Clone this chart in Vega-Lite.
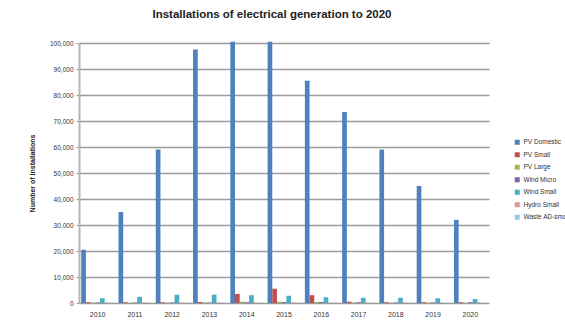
{
  "$schema": "https://vega.github.io/schema/vega-lite/v6.json",
  "autosize": {"type": "none"},
  "padding": {"left": 79, "top": 43, "right": 76, "bottom": 29},
  "width": 410,
  "height": 260,
  "background": "white",
  "title": {
    "text": "Installations of electrical generation to 2020",
    "font": "Liberation Sans Narrow, Liberation Sans",
    "fontSize": 11.5,
    "fontWeight": "bold",
    "color": "#222222",
    "anchor": "middle",
    "dx": -12,
    "offset": 20
  },
  "data": {
    "values": [
      {"year": "2010", "series": "PV Domestic", "installs": 20500},
      {"year": "2011", "series": "PV Domestic", "installs": 35000},
      {"year": "2012", "series": "PV Domestic", "installs": 59000},
      {"year": "2013", "series": "PV Domestic", "installs": 97500},
      {"year": "2014", "series": "PV Domestic", "installs": 100500},
      {"year": "2015", "series": "PV Domestic", "installs": 100500},
      {"year": "2016", "series": "PV Domestic", "installs": 85500},
      {"year": "2017", "series": "PV Domestic", "installs": 73500},
      {"year": "2018", "series": "PV Domestic", "installs": 59000},
      {"year": "2019", "series": "PV Domestic", "installs": 45000},
      {"year": "2020", "series": "PV Domestic", "installs": 32000},

      {"year": "2010", "series": "PV Small", "installs": 300},
      {"year": "2011", "series": "PV Small", "installs": 300},
      {"year": "2012", "series": "PV Small", "installs": 300},
      {"year": "2013", "series": "PV Small", "installs": 400},
      {"year": "2014", "series": "PV Small", "installs": 3500},
      {"year": "2015", "series": "PV Small", "installs": 5500},
      {"year": "2016", "series": "PV Small", "installs": 3000},
      {"year": "2017", "series": "PV Small", "installs": 500},
      {"year": "2018", "series": "PV Small", "installs": 300},
      {"year": "2019", "series": "PV Small", "installs": 300},
      {"year": "2020", "series": "PV Small", "installs": 300},

      {"year": "2010", "series": "PV Large", "installs": 100},
      {"year": "2011", "series": "PV Large", "installs": 100},
      {"year": "2012", "series": "PV Large", "installs": 100},
      {"year": "2013", "series": "PV Large", "installs": 200},
      {"year": "2014", "series": "PV Large", "installs": 500},
      {"year": "2015", "series": "PV Large", "installs": 500},
      {"year": "2016", "series": "PV Large", "installs": 400},
      {"year": "2017", "series": "PV Large", "installs": 200},
      {"year": "2018", "series": "PV Large", "installs": 100},
      {"year": "2019", "series": "PV Large", "installs": 100},
      {"year": "2020", "series": "PV Large", "installs": 100},

      {"year": "2010", "series": "Wind Micro", "installs": 200},
      {"year": "2011", "series": "Wind Micro", "installs": 200},
      {"year": "2012", "series": "Wind Micro", "installs": 200},
      {"year": "2013", "series": "Wind Micro", "installs": 200},
      {"year": "2014", "series": "Wind Micro", "installs": 300},
      {"year": "2015", "series": "Wind Micro", "installs": 400},
      {"year": "2016", "series": "Wind Micro", "installs": 400},
      {"year": "2017", "series": "Wind Micro", "installs": 300},
      {"year": "2018", "series": "Wind Micro", "installs": 200},
      {"year": "2019", "series": "Wind Micro", "installs": 200},
      {"year": "2020", "series": "Wind Micro", "installs": 300},

      {"year": "2010", "series": "Wind Small", "installs": 1800},
      {"year": "2011", "series": "Wind Small", "installs": 2400},
      {"year": "2012", "series": "Wind Small", "installs": 3200},
      {"year": "2013", "series": "Wind Small", "installs": 3200},
      {"year": "2014", "series": "Wind Small", "installs": 3000},
      {"year": "2015", "series": "Wind Small", "installs": 2800},
      {"year": "2016", "series": "Wind Small", "installs": 2200},
      {"year": "2017", "series": "Wind Small", "installs": 2000},
      {"year": "2018", "series": "Wind Small", "installs": 2000},
      {"year": "2019", "series": "Wind Small", "installs": 1800},
      {"year": "2020", "series": "Wind Small", "installs": 1500},

      {"year": "2010", "series": "Hydro Small", "installs": 150},
      {"year": "2011", "series": "Hydro Small", "installs": 150},
      {"year": "2012", "series": "Hydro Small", "installs": 150},
      {"year": "2013", "series": "Hydro Small", "installs": 150},
      {"year": "2014", "series": "Hydro Small", "installs": 150},
      {"year": "2015", "series": "Hydro Small", "installs": 150},
      {"year": "2016", "series": "Hydro Small", "installs": 150},
      {"year": "2017", "series": "Hydro Small", "installs": 150},
      {"year": "2018", "series": "Hydro Small", "installs": 150},
      {"year": "2019", "series": "Hydro Small", "installs": 150},
      {"year": "2020", "series": "Hydro Small", "installs": 150},

      {"year": "2010", "series": "Waste AD-small", "installs": 100},
      {"year": "2011", "series": "Waste AD-small", "installs": 100},
      {"year": "2012", "series": "Waste AD-small", "installs": 100},
      {"year": "2013", "series": "Waste AD-small", "installs": 100},
      {"year": "2014", "series": "Waste AD-small", "installs": 100},
      {"year": "2015", "series": "Waste AD-small", "installs": 100},
      {"year": "2016", "series": "Waste AD-small", "installs": 100},
      {"year": "2017", "series": "Waste AD-small", "installs": 100},
      {"year": "2018", "series": "Waste AD-small", "installs": 100},
      {"year": "2019", "series": "Waste AD-small", "installs": 100},
      {"year": "2020", "series": "Waste AD-small", "installs": 100}
    ]
  },
  "mark": {"type": "bar", "cornerRadius": 0},
  "encoding": {
    "x": {
      "field": "year",
      "type": "nominal",
      "scale": {"paddingInner": 0.12, "paddingOuter": 0.06},
      "axis": {
        "title": null,
        "labelAngle": 0,
        "labelFont": "Liberation Sans Narrow, Liberation Sans",
        "labelFontSize": 7,
        "labelColor": "#333333",
        "labelPadding": 7,
        "ticks": false,
        "domain": false
      }
    },
    "xOffset": {
      "field": "series",
      "type": "nominal",
      "sort": ["PV Domestic", "PV Small", "PV Large", "Wind Micro", "Wind Small", "Hydro Small", "Waste AD-small"]
    },
    "y": {
      "field": "installs",
      "type": "quantitative",
      "scale": {"domain": [0, 100000], "nice": false},
      "axis": {
        "title": "Number of Installations",
        "titleFont": "Liberation Sans Narrow, Liberation Sans",
        "titleFontSize": 7,
        "titleFontWeight": "bold",
        "titleColor": "#222222",
        "titlePadding": 14,
        "values": [0, 10000, 20000, 30000, 40000, 50000, 60000, 70000, 80000, 90000, 100000],
        "format": ",.0f",
        "labelFont": "Liberation Sans Narrow, Liberation Sans",
        "labelFontSize": 6.5,
        "labelColor": "#333333",
        "labelPadding": 3,
        "tickSize": 3,
        "tickColor": "#999999",
        "domainColor": "#b5b5b5",
        "domainWidth": 2,
        "grid": true,
        "gridColor": "#9a9a9a",
        "gridWidth": 1.5
      }
    },
    "color": {
      "field": "series",
      "type": "nominal",
      "sort": ["PV Domestic", "PV Small", "PV Large", "Wind Micro", "Wind Small", "Hydro Small", "Waste AD-small"],
      "scale": {
        "domain": ["PV Domestic", "PV Small", "PV Large", "Wind Micro", "Wind Small", "Hydro Small", "Waste AD-small"],
        "range": ["#4f81bd", "#c0504d", "#9bbb59", "#8064a2", "#4bacc6", "#d99694", "#93cddd"]
      },
      "legend": {
        "title": null,
        "orient": "none",
        "legendX": 435,
        "legendY": 96,
        "symbolType": "square",
        "symbolSize": 25,
        "symbolStrokeWidth": 0,
        "labelFont": "Liberation Sans Narrow, Liberation Sans",
        "labelFontSize": 6.5,
        "labelColor": "#333333",
        "labelOffset": 3,
        "rowPadding": 5.5,
        "labelLimit": 200
      }
    }
  },
  "config": {
    "view": {"stroke": null}
  }
}
